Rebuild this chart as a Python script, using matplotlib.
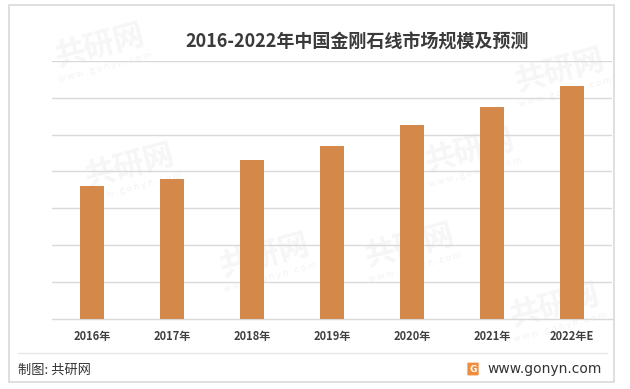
import matplotlib

matplotlib.use("Agg")
import matplotlib.pyplot as plt  # noqa: E402
from matplotlib.patches import FancyBboxPatch, Rectangle  # noqa: E402

plt.rcParams["font.family"] = ["Noto Sans CJK SC", "DejaVu Sans"]

# Data (亿元; axis labels are hidden in the source)
years = ["2016年", "2017年", "2018年", "2019年", "2020年", "2021年", "2022年E"]
market_size = [180.5, 190.0, 215.5, 234.5, 263.0, 287.5, 316.5]
grid_step = 50
grid_max = 350

title = "2016-2022年中国金刚石线市场规模及预测"
source_text = "制图: 共研网"
site_text = "www.gonyn.com"

BAR_COLOR = "#D4894B"
GRID_COLOR = "#D9D9D9"
TEXT_COLOR = "#404040"

W, H = 630, 389
fig = plt.figure(figsize=(W / 100, H / 100), dpi=100)


def fx(px):
    return px / W


def fy(py):
    return 1 - py / H


# faint watermarks behind everything
marks = [(100, 45), (265, 255), (130, 165), (470, 150), (560, 70), (410, 245), (555, 305)]
for x, y in marks:
    fig.text(fx(x), fy(y), "共研网", fontsize=22, fontweight="bold", color="#F6F6F6",
             rotation=15, ha="center", va="center", zorder=-5)
    fig.text(fx(x + 5), fy(y + 22), "w w w . g o n y n . c o m", fontsize=6.5, color="#F3F3F3",
             rotation=15, ha="center", va="center", zorder=-5)

# outer frame
fig.patches.append(Rectangle((fx(9), fy(382)), fx(614) - fx(9), fy(5) - fy(382),
                             transform=fig.transFigure, fill=False, edgecolor=GRID_COLOR, lw=1.2))

ax = fig.add_axes([fx(52), fy(318.8), fx(612) - fx(52), fy(61) - fy(318.8)])
ax.patch.set_alpha(0)
x = range(len(years))
ax.bar(x, market_size, width=0.31, color=BAR_COLOR, zorder=3)
ax.set_xlim(-0.5, len(years) - 0.5)
ax.set_ylim(0, grid_max)
ax.set_yticks(range(grid_step, grid_max + 1, grid_step))
ax.yaxis.grid(True, color=GRID_COLOR, lw=1.0)
ax.set_axisbelow(True)
ax.tick_params(axis="y", left=False, labelleft=False)
ax.tick_params(axis="x", length=0, pad=8)
ax.set_xticks(list(x))
ax.set_xticklabels(years, fontsize=8, fontweight="bold", color=TEXT_COLOR)
for side in ["top", "left", "right"]:
    ax.spines[side].set_visible(False)
ax.spines["bottom"].set_color(GRID_COLOR)
ax.spines["bottom"].set_linewidth(1.0)

fig.text(fx(357), fy(42), title, fontsize=13, fontweight="bold", color="#3A3A3A",
         ha="center", va="center")

# footer
fig.add_artist(plt.Line2D([fx(18), fx(607)], [fy(352.7), fy(352.7)],
                          color="#E6E6E6", lw=1.0, transform=fig.transFigure))
fig.text(fx(18), fy(370), source_text, fontsize=9.5, color="#333333", ha="left", va="center")
fig.text(fx(602), fy(368.5), site_text, fontsize=10, color="#333333", ha="right", va="center",
         family=["DejaVu Sans"])
fig.patches.append(FancyBboxPatch((fx(468), fy(375)), fx(10), fy(363) - fy(375),
                                  boxstyle="round,pad=0.001", transform=fig.transFigure,
                                  facecolor="#F08C3C", edgecolor="none"))
fig.text(fx(473), fy(369), "G", fontsize=6.5, fontweight="bold", color="white",
         ha="center", va="center", family=["DejaVu Sans"])

fig.savefig("out.png", dpi=100)
